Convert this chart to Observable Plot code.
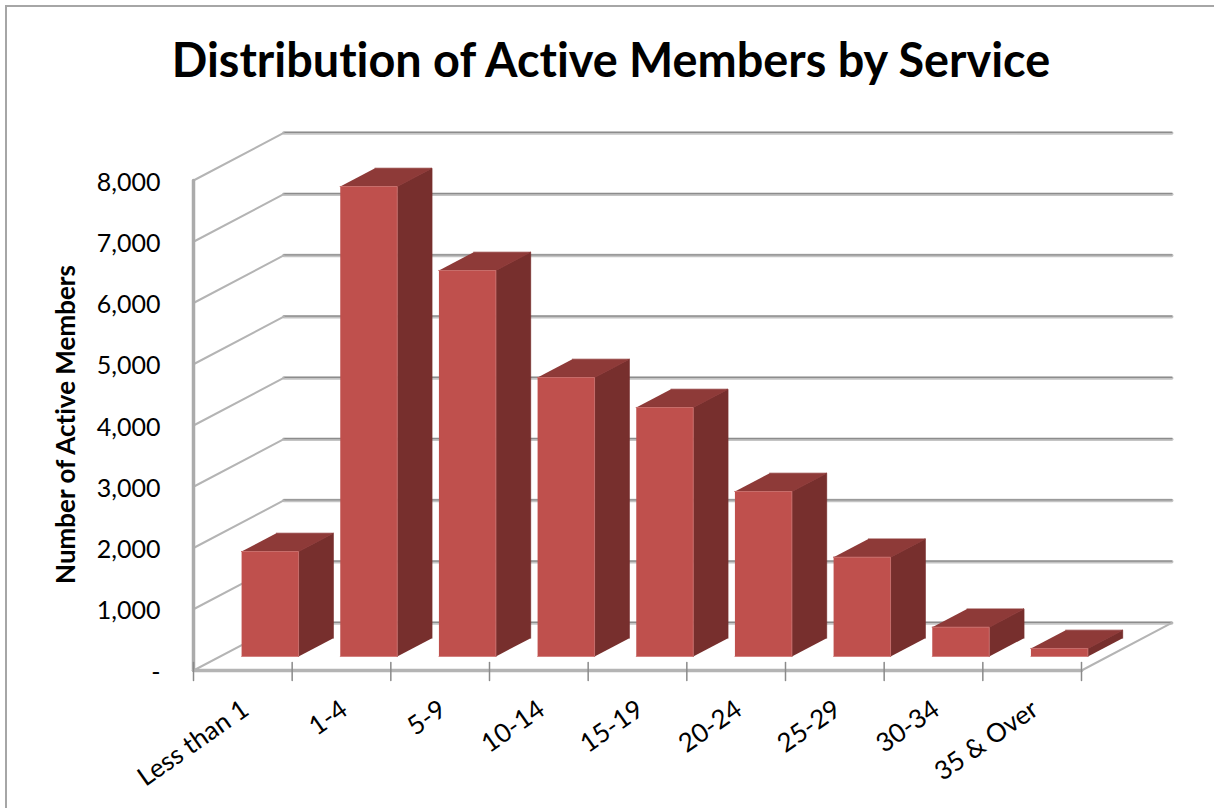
<!DOCTYPE html>
<html><head><meta charset="utf-8">
<script src="https://cdn.jsdelivr.net/npm/d3@7"></script>
<script src="https://cdn.jsdelivr.net/npm/@observablehq/plot@0.6"></script>
<style>
html,body{margin:0;padding:0;background:#fff;overflow:hidden;width:1214px;height:808px}
#frame{position:absolute;left:5px;top:5px;width:1400px;height:1000px;border-left:2px solid #a6a6a6;border-top:2px solid #a6a6a6}
#title{position:absolute;left:0;top:0;width:1222px;height:105px;text-align:center;font:700 46.8px/118px Lato,sans-serif;color:#000;white-space:nowrap;font-variant-ligatures:none}
#chart{position:absolute;left:0;top:105px}
#chart svg{display:block;background:transparent;overflow:visible;font-variant-ligatures:none}
</style></head><body>
<div id="frame"></div>
<div id="title">Distribution of Active Members by Service</div>
<div id="chart"></div>
<script>
const categories = ["Less than 1","1-4","5-9","10-14","15-19","20-24","25-29","30-34","35 & Over"];
const members = [1714,7673,6302,4555,4065,2694,1621,478,131];
const yTicks = [0,1000,2000,3000,4000,5000,6000,7000,8000];
const yLabels = ["-","1,000","2,000","3,000","4,000","5,000","6,000","7,000","8,000"];

// oblique projection: depth d (0 front .. 1 back) shifts in data units
const depthX = 0.915, depthY = 776;
const barStart = 0.2175, barWidth = 0.5775, barNear = 0.295, barFar = 0.68;
const P = (cat, val, d) => ({px: cat + d * depthX, py: val + d * depthY});

const n = categories.length;
const xTicks = d3.range(n + 1);
const gridBack = yTicks.flatMap(v => [{v, ...P(0, v, 1)}, {v, ...P(n, v, 1)}]);
const gridSide = yTicks.flatMap(v => [{v, ...P(0, v, 0)}, {v, ...P(0, v, 1)}]);
const floorEdge = [P(n, 0, 0), P(n, 0, 1)];
const yAxisLine = [P(0, 0, 0), P(0, 8000, 0)];
const xAxisLine = [P(0, 0, 0), P(n, 0, 0)];
const tickMarks = xTicks.flatMap(t => [{t, px: t, py: -165}, {t, px: t, py: 130}]);

const poly = (name, pts) => pts.map(p => ({id: name, ...p}));
const fronts = [], tops = [], sides = [];
categories.forEach((c, i) => {
  const a = i + barStart, b = a + barWidth, v = members[i];
  fronts.push(...poly(c, [P(a,0,barNear),P(b,0,barNear),P(b,v,barNear),P(a,v,barNear)]));
  tops.push(...poly(c, [P(a,v,barNear),P(b,v,barNear),P(b,v,barFar),P(a,v,barFar)]));
  sides.push(...poly(c, [P(b,0,barNear),P(b,v,barNear),P(b,v,barFar),P(b,0,barFar)]));
});
const base = {x:"px", y:"py"};
const plot = Plot.plot({
  width: 1214, height: 703, margin: 0,
  x: {type:"linear", domain:[0,9], range:[193,1081], axis:null},
  y: {type:"linear", domain:[0,8000], range:[565,75], axis:null},
  style: {background:"transparent", fontFamily:"Lato, sans-serif", color:"#000"},
  marks: [
    Plot.line(gridBack, {...base, z:"v", stroke:"#c4c4c4", strokeWidth:3.4}),
    Plot.line(gridBack, {...base, z:"v", stroke:"#8c8c8c", strokeWidth:1.4, dy:-0.6}),
    Plot.line(gridSide, {...base, z:"v", stroke:"#b4b4b4", strokeWidth:2}),
    Plot.line(floorEdge, {...base, stroke:"#b4b4b4", strokeWidth:2}),
    Plot.line(yAxisLine, {...base, stroke:"#ababab", strokeWidth:3.5}),
    Plot.line(xAxisLine, {...base, stroke:"#b4b4b4", strokeWidth:3.5}),
    Plot.line(tickMarks, {...base, z:"t", stroke:"#8a8a8a", strokeWidth:1.5}),
    Plot.line(sides, {...base, z:"id", fill:"#772f2d", stroke:"#772f2d", strokeWidth:0.8}),
    Plot.line(tops, {...base, z:"id", fill:"#8e3a38", stroke:"#8e3a38", strokeWidth:0.8}),
    Plot.line(fronts, {...base, z:"id", fill:"#bf504d", stroke:"#cf7673", strokeWidth:0.8}),
    Plot.text(yTicks, {x:()=>0, y:d=>d, text:(d,i)=>yLabels[i], textAnchor:"end", dx:-33, dy:2, fontSize:25}),
    Plot.text(categories, {x:(d,i)=>i+0.5, y:()=>0, text:d=>d, rotate:-35, textAnchor:"end", dx:3, dy:36, fontSize:26}),
    Plot.text(["Number of Active Members"], {x:()=>0, y:()=>4000, text:d=>d, rotate:-90, dx:-127, dy:-1, fontSize:26, fontWeight:700})
  ]
});
document.getElementById("chart").append(plot);
</script>
</body></html>
